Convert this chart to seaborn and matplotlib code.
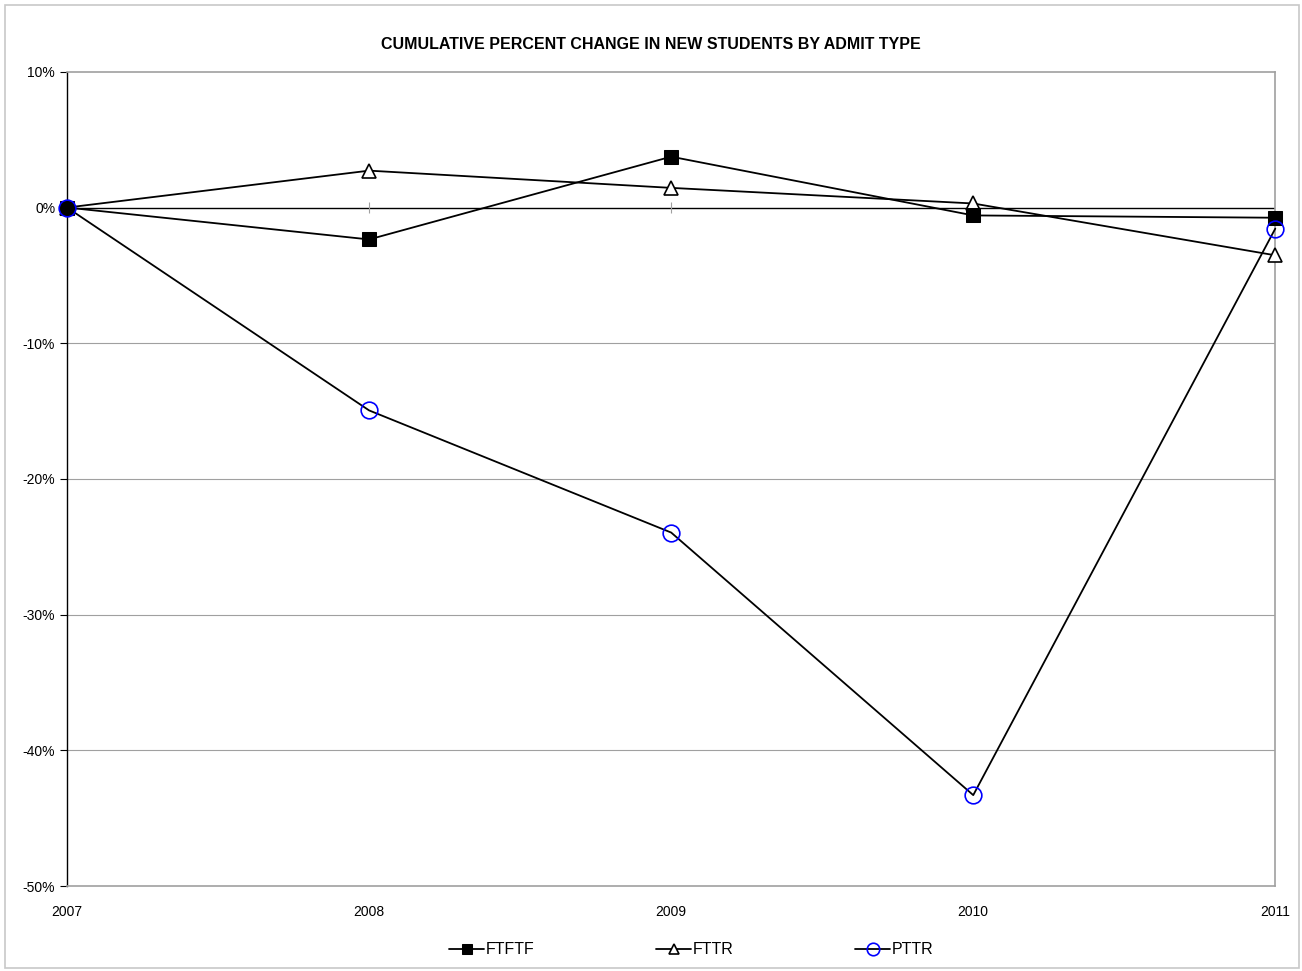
import seaborn as sns
import matplotlib.pyplot as plt
import pandas as pd
from matplotlib.patches import Rectangle
from matplotlib.ticker import FuncFormatter

years = [2007, 2008, 2009, 2010, 2011]
ftftf = [0.0, -2.35, 3.75, -0.58, -0.75]
fttr = [0.0, 2.72, 1.45, 0.30, -3.52]
pttr = [0.0, -14.95, -23.95, -43.3, -1.55]

df = pd.DataFrame({
    "year": years * 3,
    "change": ftftf + fttr + pttr,
    "type": ["FTFTF"] * 5 + ["FTTR"] * 5 + ["PTTR"] * 5,
})

sns.set_style("white")
plt.rcParams["font.family"] = ["Liberation Sans", "DejaVu Sans"]
plt.rcParams["text.color"] = "black"
plt.rcParams["xtick.color"] = "black"
plt.rcParams["ytick.color"] = "black"

fig = plt.figure(figsize=(13.02, 9.71), dpi=100)
ax = fig.add_axes([0.0515, 0.0875, 0.928, 0.8385])

# grid lines and zero line
for y in [-10, -20, -30, -40]:
    ax.axhline(y, color="#a0a0a0", lw=0.8, zorder=0)
ax.axhline(0, color="black", lw=1.0, zorder=1)
ax.vlines(years[1:-1], -0.4, 0.4, color="#a0a0a0", lw=0.8, zorder=1)

styles = {
    "FTFTF": dict(marker="s", markersize=10, markerfacecolor="black", markeredgecolor="black", zorder=4),
    "FTTR": dict(marker="^", markersize=10, markerfacecolor="white", markeredgecolor="black",
                 markeredgewidth=1.2, zorder=3),
    "PTTR": dict(marker="o", markersize=12, markerfacecolor="none", markeredgecolor="blue",
                 markeredgewidth=1.2, zorder=5),
}
for name in ["FTFTF", "FTTR", "PTTR"]:
    sub = df[df["type"] == name]
    sns.lineplot(data=sub, x="year", y="change", ax=ax, color="black", lw=1.3,
                 label=name, clip_on=False, **styles[name])

ax.set_xlim(2007, 2011)
ax.set_ylim(-50, 10)
ax.set_xticks(years)
ax.set_yticks(range(-50, 11, 10))
ax.yaxis.set_major_formatter(FuncFormatter(lambda v, p: f"{int(v)}%"))
ax.tick_params(axis="y", left=True, length=5, width=0.8, color="black", labelsize=10)
ax.tick_params(axis="x", bottom=False, labelsize=10, pad=10)
ax.set_xlabel("")
ax.set_ylabel("")
for side in ["top", "right", "bottom"]:
    ax.spines[side].set_color("#a0a0a0")
    ax.spines[side].set_linewidth(1.2)
ax.spines["left"].set_color("black")
ax.spines["left"].set_linewidth(1.0)

fig.text(0.5, 0.954, "CUMULATIVE PERCENT CHANGE IN NEW STUDENTS BY ADMIT TYPE",
         ha="center", va="center", fontsize=11.5, fontweight="bold")

ax.legend(loc="center", bbox_to_anchor=(0.531, 0.022), bbox_transform=fig.transFigure,
          ncol=3, frameon=False, fontsize=11.5, columnspacing=7.6, handlelength=2.2,
          handletextpad=0.1, markerscale=0.75)

fig.patches.append(Rectangle((0.004, 0.003), 0.994, 0.992, transform=fig.transFigure,
                             fill=False, edgecolor="#c8c8c8", lw=1.2))

plt.savefig("out.png", dpi=100)
